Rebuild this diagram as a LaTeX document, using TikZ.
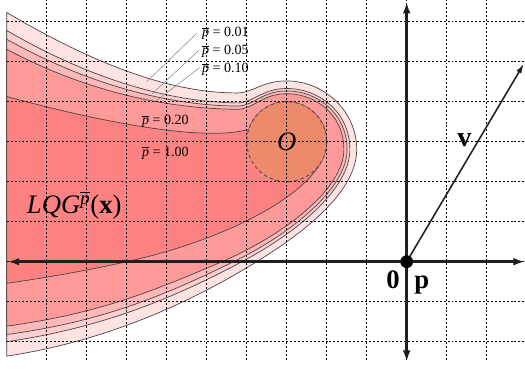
\documentclass[tikz,border=0pt]{standalone}
\usepackage{amsmath}
\usepackage{fontspec}
\setmainfont{Liberation Serif}
\usetikzlibrary{arrows.meta}
\definecolor{cA}{HTML}{FFE3E3}
\definecolor{cB}{HTML}{FFCFCF}
\definecolor{cC}{HTML}{FFB8B8}
\definecolor{cD}{HTML}{FF9A9A}
\definecolor{cE}{HTML}{FF8282}
\definecolor{cO}{HTML}{EE8A6C}
\newcommand{\pbr}{\hbox{$\overline{\hbox{\itshape p}}$}}
\begin{document}
\begin{tikzpicture}[x=1cm,y=1cm,
  contour/.style={draw=black!72, line width=0.5pt},
  gridline/.style={black, line width=0.6pt, dash pattern=on 1.4pt off 1.4pt},
  axisline/.style={line width=1.8pt, black!88, -{Latex[length=8pt,width=5.5pt]}},
  vecline/.style={line width=1.1pt, black!88, -{Latex[length=7pt,width=4pt]}},
  leader/.style={black!45, line width=0.4pt},
  plabel/.style={font=\fontsize{10}{12}\selectfont, inner sep=0pt, anchor=base west},
  biglabel/.style={font=\fontsize{19}{22}\selectfont\bfseries, inner sep=0pt, anchor=base}]
\useasboundingbox (-10.1675,-2.6575) rectangle (2.9575,6.5425);

% nested regions (p = 0.01, 0.05, 0.10, 0.20, 1.00)
\filldraw[contour, fill=cA] (-10,6.23) .. controls (-8,5.05) and (-6,4.2) .. (-4.2,4.22)
  .. controls (-3.8,4.25) and (-3.6,4.52) .. (-3,4.52)
  .. controls (-2.1,4.52) and (-1.25,3.8) .. (-1.25,2.8)
  .. controls (-1.25,1.8) and (-2.45,0.8) .. (-3.75,0)
  .. controls (-5.5,-1.08) and (-7.6,-2.0) .. (-10,-2.36) -- cycle;
\filldraw[contour, fill=cB] (-10,5.78) .. controls (-8,4.62) and (-6,3.98) .. (-4.2,3.97)
  .. controls (-3.8,4.0) and (-3.6,4.33) .. (-3,4.33)
  .. controls (-2.2,4.33) and (-1.42,3.75) .. (-1.42,2.8)
  .. controls (-1.42,1.85) and (-2.7,0.75) .. (-4.12,0)
  .. controls (-5.8,-0.9) and (-7.6,-1.65) .. (-10,-2.0) -- cycle;
\filldraw[contour, fill=cC] (-10,5.56) .. controls (-8,4.45) and (-6,3.9) .. (-4.2,3.89)
  .. controls (-3.8,3.92) and (-3.6,4.27) .. (-3,4.27)
  .. controls (-2.25,4.27) and (-1.49,3.72) .. (-1.49,2.8)
  .. controls (-1.49,1.85) and (-2.85,0.72) .. (-4.33,0)
  .. controls (-6.0,-0.82) and (-7.6,-1.5) .. (-10,-1.82) -- cycle;
\filldraw[contour, fill=cD] (-10,5.31) .. controls (-8,4.25) and (-6,3.82) .. (-4.2,3.81)
  .. controls (-3.8,3.84) and (-3.6,4.2) .. (-3,4.2)
  .. controls (-2.3,4.2) and (-1.57,3.7) .. (-1.57,2.8)
  .. controls (-1.57,1.85) and (-3.0,0.7) .. (-4.62,0)
  .. controls (-6.3,-0.72) and (-7.7,-1.3) .. (-10,-1.61) -- cycle;
\filldraw[contour, fill=cE] (-10,4.13) .. controls (-7.5,3.45) and (-5.0,3.0) .. (-3.951,3.309)
  arc[start angle=162, end angle=-15, radius=1]
  .. controls (-2.29,1.775) and (-4.3,0.6) .. (-7,0)
  .. controls (-8,-0.22) and (-9,-0.4) .. (-10,-0.54) -- cycle;

% obstacle
\node[circle, minimum size=2cm, inner sep=0pt, fill=cO, draw=black!70, line width=0.6pt, dash pattern=on 2.5pt off 2pt, font=\fontsize{19}{22}\selectfont\itshape] (O) at (-3,3) {O};

% grid
\foreach \x in {-9,...,2} \draw[gridline] (\x,-2.45) -- (\x,6.55);
\foreach \y in {-2,...,6} \draw[gridline] (-10,\y) -- (2.96,\y);

% labels
\node[plabel] (n01) at (-5.12,5.625) {\pbr\ = 0.01};
\node[plabel] (n05) at (-5.12,5.18) {\pbr\ = 0.05};
\node[plabel] (n10) at (-5.12,4.725) {\pbr\ = 0.10};
\node[plabel] (n20) at (-6.62,3.43) {\pbr\ = 0.20};
\node[plabel] (n100) at (-6.62,2.64) {\pbr\ = 1.00};

\coordinate (l1) at (-5.25,5.71); \coordinate (e1) at (-6.5,4.5);
\coordinate (l2) at (-5.2,5.28);  \coordinate (e2) at (-6.36,4.2);
\coordinate (l3) at (-5.18,4.85); \coordinate (e3) at (-6.25,4.03);
\draw[leader] (l1) -- (e1);
\draw[leader] (l2) -- (e2);
\draw[leader] (l3) -- (e3);

\node[font=\fontsize{19}{22}\selectfont, inner sep=0pt, anchor=base west] (lqg) at (-9.5,1.21) {\itshape LQG\textsuperscript{\pbr}\upshape(\textbf{x})};

% axes
\coordinate (o) at (0,0);
\coordinate (xl) at (-9.97,0);
\coordinate (xr) at (2.95,0);
\coordinate (yt) at (0,6.49);
\coordinate (yb) at (0,-2.5);
\coordinate (vt) at (2.93,4.95);
\draw[axisline] (o) -- (xl);
\draw[axisline] (o) -- (xr);
\draw[axisline] (o) -- (yt);
\draw[axisline] (o) -- (yb);
\draw[vecline] (o) -- (vt);
\node[circle, fill=black, minimum size=0.32cm, inner sep=0pt] (orig) at (o) {};

\node[biglabel] (zero) at (-0.34,-0.66) {0};
\node[biglabel] (pp) at (0.38,-0.66) {p};
\node[biglabel, font=\fontsize{20}{22}\selectfont\bfseries] (vv) at (1.44,2.875) {v};
\end{tikzpicture}
\end{document}
